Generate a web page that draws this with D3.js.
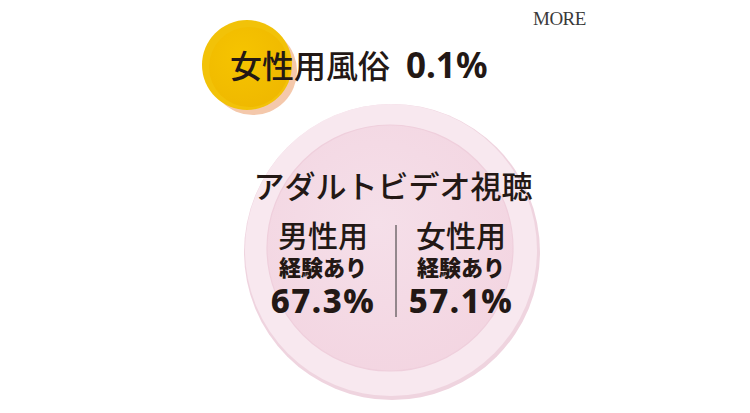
<!DOCTYPE html>
<html lang="ja">
<head>
<meta charset="UTF-8">
<title>アダルトビデオ視聴</title>
<script src="https://d3js.org/d3.v7.min.js"></script>
<style>
  body { margin: 0; background: #fff; }
  svg { display: block; }
</style>
</head>
<body>
<svg id="chart"></svg>
<script>
// data
const topLabel = "女性用風俗";
const topValue = 0.1;
const title = "アダルトビデオ視聴";
const groups = ["男性用", "女性用"];
const subLabel = "経験あり";
const values = [67.3, 57.1];

const W = 750, H = 413;
const JP = "'Noto Sans CJK JP', sans-serif";
const NUM = "'Noto Sans', 'Open Sans', sans-serif";
const INK = "#231815";

const svg = d3.select("#chart").attr("width", W).attr("height", H);
const defs = svg.append("defs");

// gradients
const g1 = defs.append("radialGradient").attr("id", "dish").attr("cx", "45%").attr("cy", "40%").attr("r", "65%");
g1.append("stop").attr("offset", "0%").attr("stop-color", "#f5dfe9");
g1.append("stop").attr("offset", "100%").attr("stop-color", "#f3d5e1");
const g2 = defs.append("radialGradient").attr("id", "coin").attr("cx", "40%").attr("cy", "35%").attr("r", "70%");
g2.append("stop").attr("offset", "0%").attr("stop-color", "#f6c400");
g2.append("stop").attr("offset", "100%").attr("stop-color", "#efb800");

// big dish
svg.append("circle").attr("cx", 392).attr("cy", 252).attr("r", 148).attr("fill", "#efd4df");
svg.append("circle").attr("cx", 391).attr("cy", 250).attr("r", 146).attr("fill", "#f8e8ef");
svg.append("circle").attr("cx", 390).attr("cy", 248).attr("r", 123).attr("fill", "url(#dish)")
  .attr("stroke", "#efcfdc").attr("stroke-width", 1.2);

// small coin
svg.append("circle").attr("cx", 253).attr("cy", 71).attr("r", 44).attr("fill", "#f4c8ab");
svg.append("circle").attr("cx", 247).attr("cy", 65).attr("r", 45).attr("fill", "#f2c208");
svg.append("circle").attr("cx", 249).attr("cy", 67).attr("r", 40).attr("fill", "url(#coin)");

// top line
const headline = svg.append("text").attr("x", 230).attr("y", 78)
  .style("font-family", JP).style("font-size", "32px").style("fill", INK);
headline.append("tspan").style("font-weight", 500).text(topLabel);
headline.append("tspan").attr("dx", 16).style("font-weight", 700)
  .style("font-family", NUM).style("font-size", "35px")
  .text(d3.format(".1f")(topValue) + "%");

// title
svg.append("text").attr("x", 393).attr("y", 198).attr("text-anchor", "middle")
  .style("font-family", JP).style("font-size", "31px").style("font-weight", 500)
  .style("fill", INK).text(title);

// columns
const x = d3.scaleBand().domain(groups).range([254, 530]);
const col = svg.selectAll("g.col").data(groups).join("g").attr("class", "col")
  .attr("transform", d => `translate(${x(d) + x.bandwidth() / 2},0)`)
  .style("fill", INK);

col.append("text").attr("y", 247).attr("text-anchor", "middle")
  .style("font-family", JP).style("font-size", "30px").style("font-weight", 500).text(d => d);
col.append("text").attr("y", 276).attr("text-anchor", "middle")
  .style("font-family", JP).style("font-size", "22px").style("font-weight", 900).text(subLabel);
col.append("text").attr("y", 313).attr("text-anchor", "middle")
  .style("font-family", NUM).style("font-size", "33px").style("font-weight", 800)
  .style("letter-spacing", "1.5px")
  .text((d, i) => d3.format(".1f")(values[i]) + "%");

// divider
svg.append("line").attr("x1", 396).attr("x2", 396).attr("y1", 225).attr("y2", 317)
  .attr("stroke", "#333").attr("stroke-width", 1);

// logo
svg.append("text").attr("x", 533).attr("y", 25)
  .style("font-family", "'Liberation Serif', 'DejaVu Serif', serif")
  .style("font-size", "19px").style("letter-spacing", "-0.5px")
  .style("fill", "#3a3a3a").text("MORE");
</script>
</body>
</html>
